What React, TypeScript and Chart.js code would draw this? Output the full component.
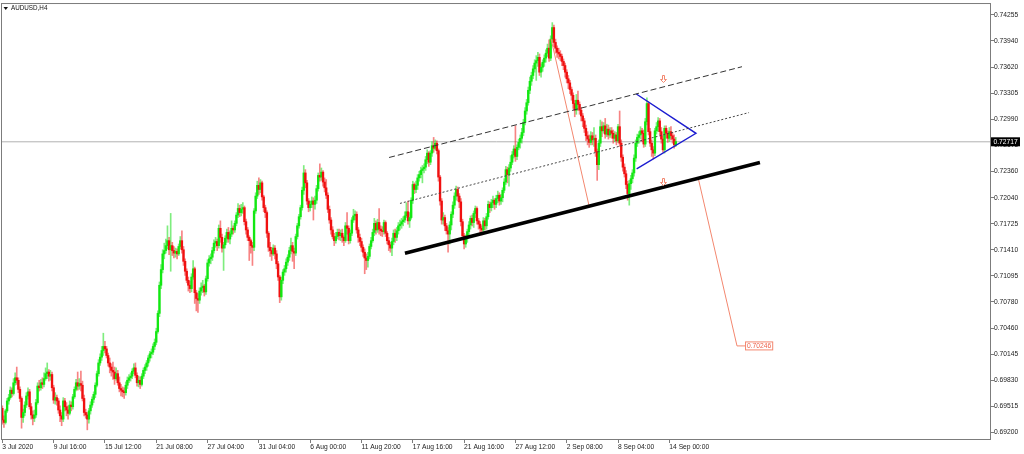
import React, { useEffect, useRef } from 'react';
import { Chart, registerables } from 'chart.js';

Chart.register(...registerables);

// ---- data (prices are stored in pips: price x 10000) ----
const PIP = 10000;
const firstOpen = 6949;

const closes = [
  6935, 6932, 6946, 6958, 6962, 6971, 6967, 6980, 6986, 6983,
  6972, 6961, 6938, 6944, 6953, 6964, 6969, 6951, 6941, 6937,
  6941, 6956, 6976, 6974, 6980, 6978, 6985, 6991, 6993, 6988,
  6990, 6974, 6959, 6962, 6958, 6947, 6940, 6936, 6958, 6951,
  6947, 6943, 6953, 6951, 6963, 6972, 6980, 6976, 6979, 6977,
  6961, 6944, 6941, 6936, 6946, 6953, 6960, 6966, 6977, 6991,
  7004, 7011, 7019, 7024, 7021, 7013, 7004, 6999, 6995, 6993,
  6985, 6991, 6980, 6973, 6971, 6969, 6968, 6977, 6983, 6986,
  6988, 6994, 6998, 6989, 6980, 6983, 6978, 6988, 6995, 6999,
  7004, 7010, 7015, 7017, 7024, 7029, 7042, 7064, 7098, 7117,
  7136, 7140, 7146, 7152, 7141, 7146, 7140, 7137, 7139, 7136,
  7145, 7152, 7141, 7127, 7115, 7104, 7098, 7094, 7108, 7118,
  7089, 7082, 7080, 7091, 7095, 7097, 7090, 7106, 7125, 7130,
  7132, 7140, 7149, 7151, 7146, 7167, 7156, 7143, 7147, 7155,
  7162, 7154, 7160, 7167, 7165, 7173, 7183, 7191, 7186, 7190,
  7192, 7175, 7165, 7156, 7152, 7146, 7144, 7188, 7206, 7219,
  7214, 7222, 7205, 7192, 7186, 7161, 7144, 7140, 7136, 7143,
  7136, 7124, 7108, 7084, 7104, 7114, 7118, 7126, 7132, 7140,
  7146, 7139, 7137, 7157, 7170, 7181, 7192, 7213, 7234, 7222,
  7200, 7192, 7196, 7200, 7196, 7201, 7215, 7231, 7229, 7235,
  7223, 7216, 7207, 7190, 7177, 7165, 7157, 7152, 7157, 7162,
  7158, 7161, 7156, 7152, 7170, 7167, 7152, 7161, 7177, 7182,
  7184, 7165, 7156, 7151, 7144, 7138, 7131, 7128, 7133, 7145,
  7152, 7162, 7173, 7165, 7174, 7166, 7164, 7163, 7174, 7161,
  7152, 7147, 7143, 7151, 7161, 7156, 7164, 7170, 7172, 7175,
  7177, 7182, 7187, 7176, 7180, 7201, 7220, 7214, 7219, 7228,
  7232, 7237, 7239, 7241, 7250, 7258, 7247, 7258, 7267, 7264,
  7270, 7261, 7229, 7200, 7177, 7180, 7170, 7164, 7160, 7171,
  7184, 7195, 7206, 7214, 7206, 7199, 7175, 7158, 7148, 7155,
  7163, 7171, 7179, 7174, 7185, 7191, 7176, 7172, 7167, 7165,
  7176, 7170, 7181, 7196, 7192, 7198, 7201, 7196, 7203, 7207,
  7200, 7204, 7213, 7223, 7238, 7232, 7240, 7247, 7256, 7263,
  7254, 7265, 7271, 7276, 7283, 7295, 7309, 7319, 7334, 7345,
  7352, 7360, 7367, 7370, 7374, 7356, 7362, 7368, 7373, 7379,
  7385, 7373, 7396, 7410, 7392, 7385, 7380, 7378, 7375, 7369,
  7364, 7356, 7348, 7343, 7335, 7328, 7318, 7310, 7322, 7317,
  7310, 7303, 7297, 7288, 7279, 7275, 7271, 7279, 7274, 7276,
  7260, 7244, 7270, 7290, 7285, 7291, 7281, 7287, 7280, 7285,
  7282, 7276, 7280, 7273, 7290, 7270, 7253, 7241, 7233, 7220,
  7209, 7221, 7227, 7234, 7252, 7270, 7277, 7280, 7285, 7282,
  7269, 7296, 7318, 7284, 7270, 7262, 7258, 7285, 7290, 7297,
  7284, 7275, 7262, 7288, 7282, 7276, 7284, 7279, 7275, 7268, 7272,
];

const highs = [
  6952, 6940, 6948, 6961, 6966, 6975, 6974, 6985, 6992, 6999,
  6986, 6975, 6963, 6948, 6957, 6968, 6974, 6972, 6955, 6946,
  6947, 6960, 6980, 6983, 6984, 6986, 6992, 6998, 7004, 6996,
  6995, 6993, 6977, 6968, 6965, 6961, 6952, 6944, 6962, 6961,
  6956, 6952, 6958, 6957, 6966, 6975, 6984, 6993, 6985, 6994,
  6982, 6965, 6948, 6944, 6949, 6957, 6963, 6969, 6980, 6994,
  7008, 7015, 7024, 7040, 7030, 7024, 7016, 7010, 7003, 7005,
  6999, 6998, 6995, 6987, 6978, 6975, 6974, 6981, 6987, 6990,
  6992, 6997, 7003, 7004, 6992, 6988, 6987, 6991, 6998, 7002,
  7007, 7013, 7018, 7021, 7027, 7033, 7046, 7067, 7102, 7123,
  7141, 7149, 7154, 7170, 7156, 7185, 7150, 7145, 7143, 7142,
  7148, 7157, 7164, 7145, 7130, 7118, 7108, 7103, 7112, 7128,
  7120, 7092, 7088, 7095, 7101, 7104, 7099, 7109, 7129, 7134,
  7136, 7144, 7153, 7156, 7154, 7171, 7176, 7160, 7150, 7158,
  7166, 7168, 7164, 7176, 7170, 7176, 7186, 7197, 7195, 7196,
  7198, 7194, 7178, 7168, 7158, 7154, 7150, 7191, 7210, 7224,
  7228, 7226, 7224, 7207, 7195, 7188, 7163, 7150, 7144, 7147,
  7146, 7140, 7127, 7110, 7108, 7117, 7122, 7130, 7135, 7144,
  7155, 7150, 7143, 7160, 7173, 7184, 7195, 7217, 7243, 7238,
  7225, 7203, 7200, 7205, 7204, 7206, 7219, 7234, 7245, 7240,
  7237, 7228, 7226, 7210, 7194, 7180, 7169, 7161, 7162, 7166,
  7166, 7165, 7166, 7158, 7174, 7186, 7170, 7165, 7180, 7190,
  7188, 7187, 7168, 7160, 7155, 7147, 7142, 7136, 7138, 7148,
  7156, 7166, 7179, 7176, 7178, 7191, 7170, 7169, 7177, 7176,
  7163, 7156, 7150, 7155, 7165, 7166, 7168, 7174, 7177, 7179,
  7181, 7187, 7198, 7200, 7186, 7204, 7224, 7222, 7224, 7232,
  7236, 7241, 7243, 7245, 7254, 7262, 7260, 7261, 7272, 7277,
  7274, 7273, 7263, 7231, 7203, 7186, 7183, 7173, 7168, 7175,
  7187, 7199, 7210, 7218, 7217, 7209, 7203, 7178, 7161, 7159,
  7166, 7175, 7182, 7183, 7188, 7194, 7193, 7179, 7175, 7170,
  7180, 7179, 7185, 7200, 7199, 7202, 7206, 7203, 7207, 7212,
  7210, 7208, 7216, 7227, 7242, 7241, 7244, 7255, 7260, 7267,
  7291, 7268, 7275, 7280, 7288, 7299, 7313, 7323, 7338, 7350,
  7356, 7364, 7371, 7376, 7380, 7378, 7366, 7371, 7377, 7383,
  7390, 7395, 7400, 7416, 7413, 7396, 7388, 7385, 7382, 7378,
  7372, 7367, 7359, 7352, 7346, 7338, 7331, 7322, 7329, 7333,
  7320, 7313, 7306, 7300, 7292, 7284, 7280, 7284, 7283, 7289,
  7280, 7263, 7274, 7298, 7296, 7295, 7300, 7293, 7292, 7289,
  7289, 7286, 7284, 7283, 7293, 7309, 7274, 7256, 7245, 7237,
  7224, 7225, 7231, 7238, 7256, 7274, 7281, 7284, 7290, 7288,
  7286, 7300, 7325, 7320, 7288, 7274, 7266, 7288, 7295, 7301,
  7300, 7289, 7279, 7291, 7291, 7285, 7289, 7290, 7283, 7280, 7277,
];

const lows = [
  6930, 6926, 6930, 6944, 6954, 6960, 6963, 6965, 6977, 6978,
  6968, 6957, 6925, 6932, 6940, 6950, 6960, 6948, 6936, 6929,
  6933, 6938, 6954, 6970, 6971, 6973, 6975, 6983, 6985, 6982,
  6983, 6970, 6955, 6954, 6953, 6943, 6933, 6928, 6933, 6946,
  6940, 6936, 6941, 6946, 6948, 6961, 6970, 6971, 6972, 6970,
  6958, 6940, 6937, 6923, 6931, 6942, 6950, 6956, 6962, 6975,
  6988, 7001, 7007, 7013, 7016, 7010, 7000, 6992, 6988, 6984,
  6978, 6983, 6977, 6969, 6964, 6963, 6961, 6965, 6973, 6980,
  6982, 6985, 6991, 6986, 6976, 6975, 6973, 6976, 6985, 6991,
  6995, 7000, 7006, 7010, 7014, 7020, 7026, 7040, 7060, 7094,
  7113, 7130, 7137, 7142, 7135, 7115, 7134, 7131, 7132, 7130,
  7134, 7142, 7137, 7122, 7110, 7101, 7091, 7089, 7090, 7105,
  7076, 7067, 7065, 7076, 7086, 7089, 7085, 7087, 7103, 7121,
  7124, 7128, 7137, 7144, 7140, 7143, 7150, 7138, 7116, 7143,
  7150, 7150, 7148, 7157, 7160, 7162, 7170, 7180, 7181, 7182,
  7185, 7171, 7160, 7152, 7128, 7137, 7122, 7140, 7185, 7203,
  7208, 7210, 7201, 7187, 7180, 7156, 7139, 7133, 7128, 7134,
  7130, 7118, 7104, 7077, 7080, 7100, 7110, 7114, 7122, 7128,
  7136, 7127, 7118, 7134, 7154, 7167, 7178, 7189, 7208, 7216,
  7196, 7187, 7188, 7192, 7177, 7190, 7197, 7212, 7224, 7225,
  7218, 7211, 7203, 7186, 7173, 7160, 7154, 7146, 7149, 7154,
  7153, 7152, 7150, 7146, 7150, 7160, 7148, 7149, 7158, 7174,
  7177, 7161, 7150, 7146, 7139, 7133, 7112, 7117, 7120, 7130,
  7142, 7150, 7158, 7160, 7162, 7160, 7158, 7157, 7160, 7157,
  7148, 7140, 7138, 7134, 7147, 7150, 7152, 7160, 7165, 7167,
  7170, 7174, 7180, 7172, 7168, 7178, 7197, 7209, 7210, 7214,
  7224, 7228, 7222, 7234, 7237, 7245, 7242, 7244, 7254, 7259,
  7262, 7257, 7224, 7195, 7172, 7172, 7164, 7160, 7138, 7148,
  7165, 7180, 7191, 7201, 7200, 7192, 7170, 7153, 7142, 7144,
  7150, 7158, 7166, 7170, 7168, 7180, 7172, 7166, 7161, 7159,
  7162, 7165, 7166, 7178, 7186, 7188, 7192, 7190, 7192, 7198,
  7195, 7196, 7199, 7210, 7220, 7222, 7218, 7236, 7244, 7252,
  7248, 7250, 7262, 7264, 7270, 7279, 7292, 7305, 7316, 7330,
  7340, 7348, 7356, 7346, 7363, 7352, 7350, 7357, 7363, 7368,
  7375, 7369, 7370, 7392, 7387, 7379, 7374, 7372, 7370, 7364,
  7359, 7350, 7343, 7336, 7330, 7322, 7312, 7302, 7305, 7310,
  7305, 7297, 7290, 7283, 7273, 7268, 7265, 7268, 7268, 7266,
  7254, 7225, 7238, 7266, 7278, 7282, 7276, 7278, 7275, 7277,
  7276, 7270, 7272, 7268, 7271, 7266, 7248, 7236, 7229, 7215,
  7201, 7195, 7214, 7222, 7230, 7248, 7266, 7270, 7275, 7272,
  7265, 7266, 7292, 7280, 7266, 7254, 7251, 7255, 7281, 7284,
  7280, 7270, 7259, 7258, 7276, 7271, 7272, 7274, 7270, 7264, 7266,
];

const xTickIndex = [0, 32, 64, 96, 128, 160, 192, 224, 256, 288, 320, 352, 384, 416];
const xTickLabels = [
  '3 Jul 2020', '9 Jul 16:00', '15 Jul 12:00', '21 Jul 08:00', '27 Jul 04:00',
  '31 Jul 04:00', '6 Aug 00:00', '11 Aug 20:00', '17 Aug 16:00', '21 Aug 16:00',
  '27 Aug 12:00', '2 Sep 08:00', '8 Sep 04:00', '14 Sep 00:00',
];
const yTickLabels = [
  '0.74255', '0.73940', '0.73620', '0.73305', '0.72990', '0.72675', '0.72360', '0.72040',
  '0.71725', '0.71410', '0.71095', '0.70780', '0.70460', '0.70145', '0.69830', '0.69515', '0.69200',
];

const chartTitle = 'AUDUSD,H4';
const currentPrice = 0.72717;
const targetPrice = 0.70246;

// drawn objects, in (bar index, price)
const channelUpper = [{ x: 241.2, y: 0.72527 }, { x: 461.3, y: 0.73626 }];
const channelMiddle = [{ x: 248.0, y: 0.71971 }, { x: 465.7, y: 0.73071 }];
const supportLine = [{ x: 251.1, y: 0.71367 }, { x: 472.5, y: 0.72466 }];
const pennant = [{ x: 395.4, y: 0.73296 }, { x: 432.6, y: 0.72820 }, { x: 395.6, y: 0.72390 }];
const projectionA = [{ x: 342.2, y: 0.73965 }, { x: 366.1, y: 0.71928 }];
const projectionB = [{ x: 433.9, y: 0.72285 }, { x: 458.2, y: targetPrice }, { x: 463.2, y: targetPrice }];
const arrowMarks = [{ x: 412.2, y: 0.73478 }, { x: 412.2, y: 0.72228 }];

const X_MIN = -0.2;
const X_MAX = 616.6;
const Y_MIN = 0.69107;
const Y_MAX = 0.74385;

const FONT = "'Liberation Sans', Arial, sans-serif";
const GREEN = '#12e812';
const RED = '#f01010';
const GREEN_WICK = 'rgba(40,225,40,0.6)';
const RED_WICK = 'rgba(240,30,30,0.55)';
const SALMON = '#f3876f';

function lineDs(data: any[], color: string, width: number, dash: number[], order: number) {
  return {
    type: 'line' as const,
    data,
    borderColor: color,
    borderWidth: width,
    borderDash: dash,
    pointRadius: 0,
    fill: false,
    tension: 0,
    order,
  };
}

const overlayPlugin = {
  id: 'mtOverlay',
  afterDraw(chart: any) {
    const { ctx, chartArea: a, scales } = chart;
    const xs = scales.x;
    const ys = scales.y;
    ctx.save();
    // frame
    ctx.strokeStyle = '#7c7c7c';
    ctx.lineWidth = 1;
    ctx.strokeRect(a.left - 0.5, a.top - 0.5, a.right - a.left, a.bottom - a.top);

    // title
    ctx.fillStyle = '#111';
    ctx.beginPath();
    ctx.moveTo(a.left + 1.5, a.top + 3);
    ctx.lineTo(a.left + 6, a.top + 3);
    ctx.lineTo(a.left + 3.75, a.top + 6);
    ctx.closePath();
    ctx.fill();
    ctx.font = `6.3px ${FONT}`;
    ctx.textBaseline = 'middle';
    ctx.textAlign = 'left';
    ctx.fillText(chartTitle, a.left + 9, a.top + 4.5);

    // arrow marks (hollow down arrows)
    ctx.strokeStyle = SALMON;
    ctx.lineWidth = 1;
    arrowMarks.forEach((p) => {
      const cx = Math.round(xs.getPixelForValue(p.x)) + 0.5;
      const cy = Math.round(ys.getPixelForValue(p.y)) + 0.5;
      ctx.beginPath();
      ctx.moveTo(cx - 1, cy - 4);
      ctx.lineTo(cx + 1, cy - 4);
      ctx.lineTo(cx + 1, cy);
      ctx.lineTo(cx + 3, cy);
      ctx.lineTo(cx, cy + 3);
      ctx.lineTo(cx - 3, cy);
      ctx.lineTo(cx - 1, cy);
      ctx.closePath();
      ctx.stroke();
    });

    // target label
    const tx = xs.getPixelForValue(projectionB[2].x);
    const ty = ys.getPixelForValue(targetPrice);
    ctx.font = `6.7px ${FONT}`;
    ctx.textBaseline = 'middle';
    const tLabel = targetPrice.toFixed(5);
    const tw = ctx.measureText(tLabel).width + 3;
    ctx.fillStyle = '#fff';
    ctx.fillRect(tx, ty - 4.5, tw, 9);
    ctx.strokeStyle = SALMON;
    ctx.strokeRect(tx + 0.5, ty - 4, tw, 8);
    ctx.fillStyle = '#ec5f48';
    ctx.textAlign = 'left';
    ctx.fillText(tLabel, tx + 2, ty + 0.5);

    // current price box
    const py = ys.getPixelForValue(currentPrice);
    ctx.fillStyle = '#000';
    ctx.fillRect(a.right, py - 4.5, 29, 9);
    ctx.fillStyle = '#fff';
    ctx.fillText(currentPrice.toFixed(5), a.right + 2.5, py + 0.5);
    ctx.restore();
  },
};

export default function App() {
  const ref = useRef<HTMLCanvasElement>(null);

  useEffect(() => {
    document.body.style.margin = '0';
    const canvas = ref.current;
    if (!canvas) return;
    const opens = closes.map((c, i) => (i === 0 ? firstOpen : closes[i - 1]));
    const wickData = closes.map((c, i) => ({
      x: i,
      y: [Math.min(lows[i], opens[i], c) / PIP, Math.max(highs[i], opens[i], c) / PIP],
    }));
    const bodyData = closes.map((c, i) => ({ x: i, y: [opens[i] / PIP, c / PIP] }));
    const isUp = closes.map((c, i) => c >= opens[i]);

    const bidLine = [{ x: X_MIN, y: currentPrice }, { x: X_MAX, y: currentPrice }];

    const chart = new Chart(canvas, {
      type: 'bar',
      data: {
        datasets: [
          lineDs(supportLine, '#000', 3.6, [], 0),
          lineDs(channelUpper, '#333', 1, [6, 3], 0),
          lineDs(channelMiddle, '#444', 1, [2, 2], 0),
          lineDs(pennant, '#1c1cd0', 1.4, [], 0),
          lineDs(projectionA, SALMON, 1, [], 0),
          lineDs(projectionB, SALMON, 1, [], 0),
          {
            type: 'bar',
            data: bodyData as any,
            backgroundColor: isUp.map((u) => (u ? GREEN : RED)),
            barThickness: 1.7,
            grouped: false,
            minBarLength: 1,
            borderWidth: 0,
            order: 5,
          } as any,
          {
            type: 'bar',
            data: wickData as any,
            backgroundColor: isUp.map((u) => (u ? GREEN_WICK : RED_WICK)),
            barThickness: 1,
            grouped: false,
            borderWidth: 0,
            order: 6,
          } as any,
          lineDs(bidLine, '#b2b2b2', 1, [], 7),
        ] as any,
      },
      options: {
        responsive: false,
        animation: false,
        devicePixelRatio: 1,
        events: [],
        layout: { padding: { left: 2, top: 2, right: 0, bottom: 0 } },
        plugins: {
          legend: { display: false },
          tooltip: { enabled: false },
        },
        scales: {
          x: {
            type: 'linear',
            position: 'bottom',
            min: X_MIN,
            max: X_MAX,
            offset: false,
            afterBuildTicks: (s: any) => {
              s.ticks = xTickIndex.map((v) => ({ value: v }));
            },
            afterFit: (s: any) => {
              s.height = 14;
            },
            ticks: {
              autoSkip: false,
              maxRotation: 0,
              minRotation: 0,
              align: 'start',
              padding: 0,
              color: '#1a1a1a',
              font: { family: FONT, size: 6.7 },
              callback: (v: any) => {
                const k = xTickIndex.indexOf(Number(v));
                return k >= 0 ? xTickLabels[k] : '';
              },
            },
            grid: { drawOnChartArea: false, tickLength: 3, color: '#7c7c7c', offset: false },
            border: { display: false },
          },
          y: {
            type: 'linear',
            position: 'right',
            min: Y_MIN,
            max: Y_MAX,
            afterBuildTicks: (s: any) => {
              s.ticks = yTickLabels.map((t) => ({ value: parseFloat(t) }));
            },
            afterFit: (s: any) => {
              s.width = 33;
            },
            ticks: {
              autoSkip: false,
              padding: 0,
              color: '#1a1a1a',
              font: { family: FONT, size: 6.7 },
              callback: (v: any) => Number(v).toFixed(5),
            },
            grid: { drawOnChartArea: false, tickLength: 3, color: '#7c7c7c' },
            border: { display: false },
          },
        },
      } as any,
      plugins: [overlayPlugin],
    });
    return () => chart.destroy();
  }, []);

  return <canvas ref={ref} width={1024} height={454} style={{ display: 'block' }} />;
}
